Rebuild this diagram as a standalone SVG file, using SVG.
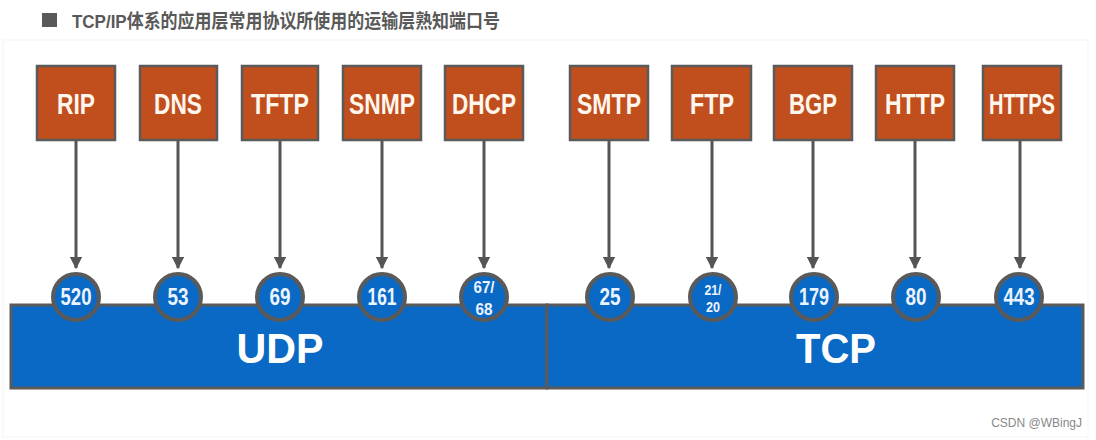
<svg xmlns="http://www.w3.org/2000/svg" width="1096" height="440" viewBox="0 0 1096 440">
<style>
.box{fill:#C14F1E;stroke:#5A5A5A;stroke-width:2.5}
.bl{font-family:"Liberation Sans",Arial,sans-serif;font-weight:bold;font-size:29px;fill:#FFF6EE;text-anchor:middle}
.pc{fill:#0A69C4;stroke:#5A5A5A;stroke-width:4}
.pn{font-family:"Liberation Sans",Arial,sans-serif;font-weight:bold;font-size:23px;fill:#EAF4FF;text-anchor:middle}
.pn2{font-family:"Liberation Sans",Arial,sans-serif;font-weight:bold;font-size:17px;fill:#EAF4FF;text-anchor:middle}
.pn3{font-family:"Liberation Sans",Arial,sans-serif;font-weight:bold;font-size:14px;fill:#EAF4FF;text-anchor:middle}
.bar{fill:#0A69C4;stroke:#5A5A5A;stroke-width:3}
.bt{font-family:"Liberation Sans",Arial,sans-serif;font-weight:bold;font-size:42px;fill:#FFFFFF;text-anchor:middle}
.ar{stroke:#555555;stroke-width:3;fill:none;marker-end:url(#ah)}
</style>
<defs>
<marker id="ah" viewBox="0 0 10 10" refX="9" refY="5" markerWidth="4.2" markerHeight="4.2" orient="auto" markerUnits="strokeWidth">
<path d="M0,0 L10,5 L0,10 z" fill="#555555"/>
</marker>
</defs>
<rect x="0" y="0" width="1096" height="440" fill="#FFFFFF"/>
<rect x="3" y="40" width="1085" height="397" fill="none" stroke="#F4F4F4" stroke-width="1"/>
<g id="title">
<rect x="42" y="13" width="15" height="14" fill="#595959"/>
<text x="72" y="28" font-family="'Liberation Sans','Noto Sans CJK SC',sans-serif" font-weight="bold" font-size="19px" fill="#595959" textLength="428" lengthAdjust="spacingAndGlyphs">TCP/IP体系的应用层常用协议所使用的运输层熟知端口号</text>
</g>
<g id="transport">
<g id="udp"><rect class="bar" x="11" y="305" width="536" height="83"/><text class="bt" x="280" y="363" textLength="87" lengthAdjust="spacingAndGlyphs">UDP</text></g>
<g id="tcp"><rect class="bar" x="547" y="305" width="536" height="83"/><text class="bt" x="836" y="363" textLength="80" lengthAdjust="spacingAndGlyphs">TCP</text></g>
</g>
<g id="connectors">
<line class="ar" x1="76" y1="141" x2="76" y2="268"/>
<line class="ar" x1="178" y1="141" x2="178" y2="268"/>
<line class="ar" x1="280" y1="141" x2="280" y2="268"/>
<line class="ar" x1="382" y1="141" x2="382" y2="268"/>
<line class="ar" x1="484" y1="141" x2="484" y2="268"/>
<line class="ar" x1="609" y1="141" x2="609" y2="268"/>
<line class="ar" x1="712" y1="141" x2="712" y2="268"/>
<line class="ar" x1="813" y1="141" x2="813" y2="268"/>
<line class="ar" x1="915" y1="141" x2="915" y2="268"/>
<line class="ar" x1="1020" y1="141" x2="1020" y2="268"/>
</g>
<g id="rip"><rect class="box" x="37" y="66" width="78" height="74"/><text class="bl" x="76" y="114" textLength="38" lengthAdjust="spacingAndGlyphs">RIP</text></g>
<g id="dns"><rect class="box" x="140" y="66" width="77" height="74"/><text class="bl" x="178" y="114" textLength="48" lengthAdjust="spacingAndGlyphs">DNS</text></g>
<g id="tftp"><rect class="box" x="242" y="66" width="76" height="74"/><text class="bl" x="280" y="114" textLength="58" lengthAdjust="spacingAndGlyphs">TFTP</text></g>
<g id="snmp"><rect class="box" x="343" y="66" width="78" height="74"/><text class="bl" x="382" y="114" textLength="66" lengthAdjust="spacingAndGlyphs">SNMP</text></g>
<g id="dhcp"><rect class="box" x="445" y="66" width="78" height="74"/><text class="bl" x="484" y="114" textLength="64" lengthAdjust="spacingAndGlyphs">DHCP</text></g>
<g id="smtp"><rect class="box" x="570" y="66" width="78" height="74"/><text class="bl" x="609" y="114" textLength="64" lengthAdjust="spacingAndGlyphs">SMTP</text></g>
<g id="ftp"><rect class="box" x="672" y="66" width="79" height="74"/><text class="bl" x="712" y="114" textLength="44" lengthAdjust="spacingAndGlyphs">FTP</text></g>
<g id="bgp"><rect class="box" x="774" y="66" width="78" height="74"/><text class="bl" x="813" y="114" textLength="48" lengthAdjust="spacingAndGlyphs">BGP</text></g>
<g id="http"><rect class="box" x="876" y="66" width="78" height="74"/><text class="bl" x="915" y="114" textLength="60" lengthAdjust="spacingAndGlyphs">HTTP</text></g>
<g id="https"><rect class="box" x="983" y="66" width="78" height="74"/><text class="bl" x="1022" y="114" textLength="66" lengthAdjust="spacingAndGlyphs">HTTPS</text></g>
<g id="p520"><circle class="pc" cx="76" cy="297" r="23"/><text class="pn" x="76" y="305" textLength="31" lengthAdjust="spacingAndGlyphs">520</text></g>
<g id="p53"><circle class="pc" cx="178" cy="297" r="23"/><text class="pn" x="178" y="305" textLength="21" lengthAdjust="spacingAndGlyphs">53</text></g>
<g id="p69"><circle class="pc" cx="280" cy="297" r="23"/><text class="pn" x="280" y="305" textLength="21" lengthAdjust="spacingAndGlyphs">69</text></g>
<g id="p161"><circle class="pc" cx="382" cy="297" r="23"/><text class="pn" x="382" y="305" textLength="29" lengthAdjust="spacingAndGlyphs">161</text></g>
<g id="p6768"><circle class="pc" cx="484" cy="297" r="23"/><text class="pn2" x="484" y="293" textLength="21" lengthAdjust="spacingAndGlyphs">67/</text><text class="pn2" x="484" y="315" textLength="17" lengthAdjust="spacingAndGlyphs">68</text></g>
<g id="p25"><circle class="pc" cx="610" cy="297" r="23"/><text class="pn" x="610" y="305" textLength="21" lengthAdjust="spacingAndGlyphs">25</text></g>
<g id="p2120"><circle class="pc" cx="713" cy="297" r="23"/><text class="pn3" x="713" y="295" textLength="17" lengthAdjust="spacingAndGlyphs">21/</text><text class="pn3" x="713" y="312" textLength="14" lengthAdjust="spacingAndGlyphs">20</text></g>
<g id="p179"><circle class="pc" cx="814" cy="297" r="23"/><text class="pn" x="814" y="305" textLength="30" lengthAdjust="spacingAndGlyphs">179</text></g>
<g id="p80"><circle class="pc" cx="916" cy="297" r="23"/><text class="pn" x="916" y="305" textLength="21" lengthAdjust="spacingAndGlyphs">80</text></g>
<g id="p443"><circle class="pc" cx="1019" cy="297" r="23"/><text class="pn" x="1019" y="305" textLength="31" lengthAdjust="spacingAndGlyphs">443</text></g>
<text x="1082" y="427" font-family="'Liberation Sans',Arial,sans-serif" font-size="12px" fill="#888888" text-anchor="end">CSDN @WBingJ</text>
</svg>
